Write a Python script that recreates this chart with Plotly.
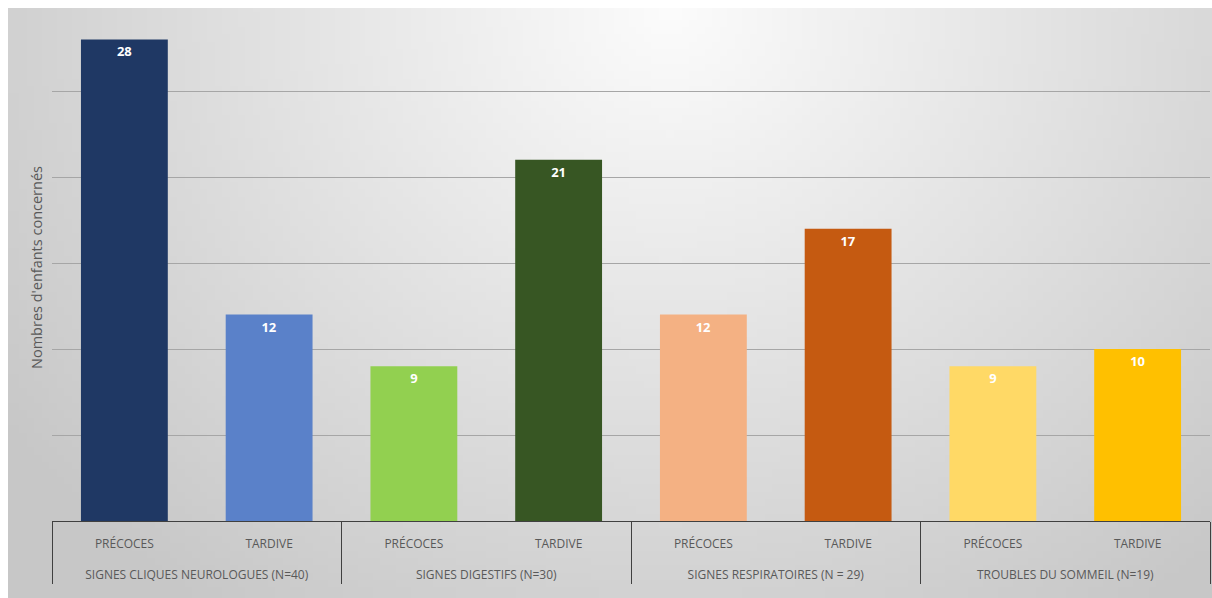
import base64, struct, zlib
import numpy as np
import plotly.graph_objects as go

# ---- data ----
groups = ["SIGNES CLIQUES NEUROLOGUES (N=40)"] * 2 + ["SIGNES DIGESTIFS (N=30)"] * 2 + \
         ["SIGNES RESPIRATOIRES (N = 29)"] * 2 + ["TROUBLES DU SOMMEIL (N=19)"] * 2
phases = ["PRÉCOCES", "TARDIVE"] * 4
values = [28, 12, 9, 21, 12, 17, 9, 10]
colors = ["#1f3864", "#5a81c9", "#92d050", "#375623", "#f4b183", "#c55a11", "#ffd966", "#ffc000"]
y_title = "Nombres d'enfants concernés"


# ---- background gradient image (style only) ----
def gradient_png(w=160, h=80):
    xs = np.linspace(0, 1, w)[None, :]
    ys = np.linspace(0, 1, h)[:, None]
    d = np.sqrt(((xs - 0.55) / 0.62) ** 2 + (ys / 1.15) ** 2)
    v = 252 - 48 * np.clip(d, 0, 1.1)
    v = np.clip(v, 0, 255).astype(np.uint8)
    raw = b"".join(b"\x00" + bytes(np.repeat(row, 3)) for row in v)

    def chunk(t, data):
        c = struct.pack(">I", len(data)) + t + data
        return c + struct.pack(">I", zlib.crc32(t + data) & 0xffffffff)

    png = b"\x89PNG\r\n\x1a\n" + chunk(b"IHDR", struct.pack(">IIBBBBB", w, h, 8, 2, 0, 0, 0)) \
        + chunk(b"IDAT", zlib.compress(raw)) + chunk(b"IEND", b"")
    return "data:image/png;base64," + base64.b64encode(png).decode()


fig = go.Figure(go.Bar(
    x=[groups, [p + "<br><span style='font-size:30px'> </span>" for p in phases]],
    y=values,
    marker=dict(color=colors, line=dict(width=0)),
    width=0.6,
    text=[str(v) for v in values],
    textposition="inside",
    insidetextanchor="end",
    textfont=dict(color="white", size=13, family="Open Sans", weight="bold"),
    hoverinfo="y",
))

W, H = 1204, 590
ml, mr, mt, mb = 44, 2, 6, 77
pw, ph = W - ml - mr, H - mt - mb

fig.update_layout(
    width=W, height=H,
    margin=dict(l=ml, r=mr, t=mt, b=mb),
    paper_bgcolor="white",
    plot_bgcolor="rgba(0,0,0,0)",
    showlegend=False,
    bargap=0.4,
    font=dict(family="Open Sans", color="#595959", size=12),
    images=[dict(
        source=gradient_png(), xref="paper", yref="paper",
        x=-ml / pw, y=1 + mt / ph,
        sizex=W / pw, sizey=H / ph,
        sizing="stretch", layer="below", xanchor="left", yanchor="top",
    )],
    xaxis=dict(
        type="multicategory",
        showline=True, linecolor="#404040", linewidth=1,
        showdividers=True, dividercolor="#404040", dividerwidth=1,
        ticklabelstandoff=12,
        tickfont=dict(size=12, color="#595959"),
        showgrid=False, automargin=False,
    ),
    yaxis=dict(
        range=[0, 29.48], dtick=5,
        showgrid=True, gridcolor="#a6a6a6", gridwidth=1,
        showticklabels=False, zeroline=False, showline=False,
        automargin=False,
        title=dict(text=y_title, font=dict(size=14.5, color="#595959"), standoff=4),
    ),
)

fig.write_html(
    "out.html",
    post_script="document.body.style.margin='8px 0 0 8px';document.body.style.overflow='hidden';",
)
